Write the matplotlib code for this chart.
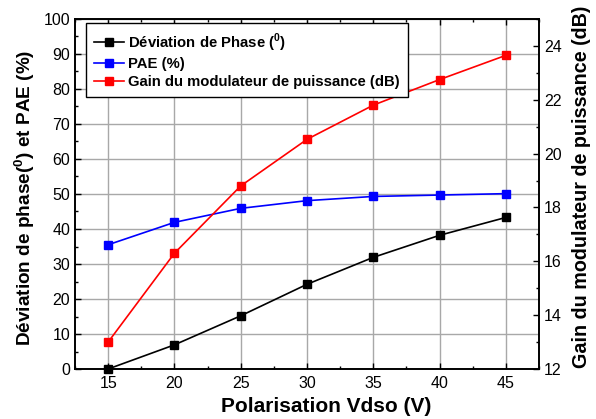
import matplotlib
matplotlib.use("Agg")
import matplotlib.pyplot as plt
from matplotlib.ticker import MultipleLocator

plt.rcParams['font.family'] = ['Liberation Sans', 'DejaVu Sans']
plt.rcParams['mathtext.fontset'] = 'custom'
plt.rcParams['mathtext.rm'] = 'Liberation Sans'
plt.rcParams['mathtext.bf'] = 'Liberation Sans:bold'

vdso = [15, 20, 25, 30, 35, 40, 45]
phase = [0.0, 6.9, 15.2, 24.2, 31.9, 38.2, 43.3]
pae = [35.5, 41.9, 45.9, 48.1, 49.3, 49.7, 50.1]
gain = [13.0, 16.3, 18.8, 20.53, 21.8, 22.75, 23.65]

x_ticks = [15, 20, 25, 30, 35, 40, 45]
y_left_ticks = [0, 10, 20, 30, 40, 50, 60, 70, 80, 90, 100]
y_right_ticks = [12, 14, 16, 18, 20, 22, 24]

fig = plt.figure(figsize=(5.96, 4.19), dpi=100)
ax = fig.add_axes([75/596, 50/419, 464/596, 350/419])
ax2 = ax.twinx()

lw = 1.2
ms = 6
l1, = ax.plot(vdso, phase, color='black', marker='s', lw=lw, ms=ms, clip_on=False, zorder=5,
              label='Déviation de Phase ($^{\\mathbf{0}}$)')
l2, = ax.plot(vdso, pae, color='#0000ff', marker='s', lw=lw, ms=ms, clip_on=False, zorder=5,
              label='PAE (%)')
l3, = ax2.plot(vdso, gain, color='#ff0000', marker='s', lw=lw, ms=ms, clip_on=False, zorder=5,
               label='Gain du modulateur de puissance (dB)')

ax.set_xlim(12.5, 47.5)
ax.set_ylim(0, 100)
ax2.set_ylim(12, 25)
ax.set_xticks(x_ticks)
ax.set_yticks(y_left_ticks)
ax2.set_yticks(y_right_ticks)
ax.xaxis.set_minor_locator(MultipleLocator(2.5))
ax.yaxis.set_minor_locator(MultipleLocator(5))
ax2.yaxis.set_minor_locator(MultipleLocator(1))

ax.grid(True, which='major', color='#a8a8a8', lw=1.0)
ax.set_axisbelow(True)

ax.tick_params(axis='both', which='both', direction='in', labelsize=11.5, top=True)
ax.tick_params(which='major', length=4, width=1)
ax.tick_params(which='minor', length=2.5, width=1)
ax.tick_params(axis='y', right=False)
ax.tick_params(axis='x', pad=5)
ax2.tick_params(axis='y', which='both', direction='in', labelsize=11.5)
ax2.tick_params(which='major', length=4, width=1)
ax2.tick_params(which='minor', length=2.5, width=1)

for a in (ax, ax2):
    for s in a.spines.values():
        s.set_linewidth(1.2)

ax.set_xlabel('Polarisation Vdso (V)', fontsize=15, fontweight='bold')
ax.xaxis.set_label_coords(0.541, -0.079)
ax.set_ylabel('Déviation de phase($^{\\mathbf{0}}$) et PAE (%)', fontsize=13.7, fontweight='bold')
ax.yaxis.set_label_coords(-0.082, 0.49)
ax2.set_ylabel('Gain du modulateur de puissance (dB)', fontsize=14.2, fontweight='bold')
ax2.yaxis.set_label_coords(1.072, 0.52)

leg = ax2.legend(handles=[l1, l2, l3], loc='upper left', bbox_to_anchor=(0.024, 0.988),
                 borderaxespad=0, fancybox=False, edgecolor='black', framealpha=1,
                 prop={'weight': 'bold', 'size': 10.7}, handlelength=2.0, handletextpad=0.3,
                 labelspacing=0.25, borderpad=0.55)
leg.get_frame().set_linewidth(1.0)

fig.savefig('out.png', dpi=100)
